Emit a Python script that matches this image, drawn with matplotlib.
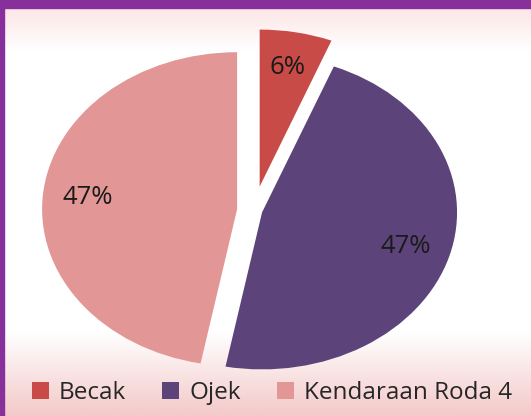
"""Pie chart of transport mode share (Becak / Ojek / Kendaraan Roda 4)."""
import numpy as np
import matplotlib.pyplot as plt
from matplotlib.colors import LinearSegmentedColormap
from matplotlib.patches import Patch, Rectangle

labels = ["Becak", "Ojek", "Kendaraan Roda 4"]
shares = [6, 47, 47]
colors = ["#C84B48", "#5C447A", "#E29695"]
explode = [0.155, 0.043, 0.087]

plt.rcParams["font.family"] = ["Open Sans", "DejaVu Sans"]

fig = plt.figure(figsize=(5.31, 4.16), dpi=100)

# background: pink fading to white at the top and bottom
bg = fig.add_axes([0, 0, 1, 1], zorder=-1)
bg_cmap = LinearSegmentedColormap.from_list(
    "bg", [(0.0, "#F4C9C9"), (0.2, "#FFFFFF"), (0.88, "#FFFFFF"), (1.0, "#FDE1E1")])
bg.imshow(np.linspace(0, 1, 256).reshape(-1, 1), cmap=bg_cmap, aspect="auto",
          origin="lower", extent=[0, 1, 0, 1])
bg.set_xlim(0, 1)
bg.set_ylim(0, 1)
bg.axis("off")

# purple frame (top and left)
fig.patches.append(Rectangle((0, 1 - 8 / 416), 1, 8 / 416, transform=fig.transFigure,
                             color="#87309B", zorder=5))
fig.patches.append(Rectangle((0, 0), 4 / 531, 1, transform=fig.transFigure,
                             color="#87309B", zorder=5))

ax = fig.add_axes([0, 0, 1, 1])
ax.patch.set_alpha(0)
wedges, texts, autotexts = ax.pie(
    shares, colors=colors, explode=explode, startangle=90, counterclock=False,
    autopct="%d%%", pctdistance=0.77,
    textprops={"fontsize": 18.5, "color": "#1A1A1A"})

# squash the pie into an ellipse
cx, cy, rx, ry = 254, 210.5, 195, 157
ax.set_aspect("auto")
ax.set_xlim(-cx / rx, (531 - cx) / rx)
ax.set_ylim(-(416 - cy) / ry, cy / ry)
ax.axis("off")

handles = [Patch(facecolor=c, edgecolor="none") for c in colors]
fig.legend(handles, labels, loc="center", bbox_to_anchor=(0.512, 0.055), ncol=3,
           frameon=False, fontsize=17.5, handlelength=0.7, handleheight=0.7,
           handletextpad=0.4, columnspacing=1.5, labelcolor="#262626")

fig.savefig("out.png", dpi=100)
